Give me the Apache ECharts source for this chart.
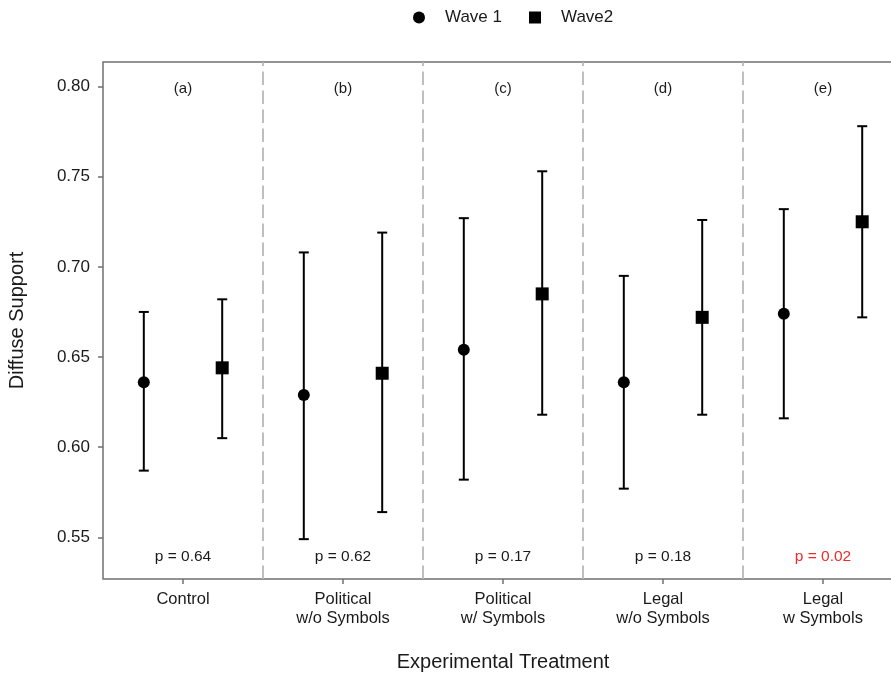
<!DOCTYPE html>
<html>
<head>
<meta charset="utf-8">
<script src="https://cdn.jsdelivr.net/npm/echarts@6/dist/echarts.min.js"></script>
<style>html,body{margin:0;padding:0;background:#fff}#c{width:891px;height:674px}</style>
</head>
<body>
<div id="c"></div>
<script>
const categories = ['Control', 'Political\nw/o Symbols', 'Political\nw/ Symbols', 'Legal\nw/o Symbols', 'Legal\nw Symbols'];
const panelLabels = ['(a)', '(b)', '(c)', '(d)', '(e)'];
const pLabels = ['p = 0.64', 'p = 0.62', 'p = 0.17', 'p = 0.18', 'p = 0.02'];
const pSignificant = [false, false, false, false, true];
const wave1Mean  = [0.636, 0.629, 0.654, 0.636, 0.674];
const wave1Lower = [0.587, 0.549, 0.582, 0.577, 0.616];
const wave1Upper = [0.675, 0.708, 0.727, 0.695, 0.732];
const wave2Mean  = [0.644, 0.641, 0.685, 0.672, 0.725];
const wave2Lower = [0.605, 0.564, 0.618, 0.618, 0.672];
const wave2Upper = [0.682, 0.719, 0.753, 0.726, 0.778];
const yTicks = [0.55, 0.60, 0.65, 0.70, 0.75, 0.80];

const DODGE = 0.245;
const FONT = '"Liberation Sans", Arial, Helvetica, sans-serif';
const TXT = '#1a1a1a';
const FRAME = '#707070';

const xPos = (i, w) => (i + 1) + (w === 1 ? -DODGE : DODGE);
const w1Pts = wave1Mean.map((v, i) => [xPos(i, 1), v]);
const w2Pts = wave2Mean.map((v, i) => [xPos(i, 2), v]);
const w1Err = wave1Mean.map((v, i) => [xPos(i, 1), wave1Lower[i], wave1Upper[i]]);
const w2Err = wave2Mean.map((v, i) => [xPos(i, 2), wave2Lower[i], wave2Upper[i]]);

function errRender(params, api) {
  const x = api.value(0);
  const lo = api.coord([x, api.value(1)]);
  const hi = api.coord([x, api.value(2)]);
  const hw = 5;
  const st = { stroke: '#000', lineWidth: 2 };
  return {
    type: 'group',
    children: [
      { type: 'line', shape: { x1: lo[0], y1: lo[1], x2: hi[0], y2: hi[1] }, style: st },
      { type: 'line', shape: { x1: lo[0] - hw, y1: lo[1], x2: lo[0] + hw, y2: lo[1] }, style: st },
      { type: 'line', shape: { x1: hi[0] - hw, y1: hi[1], x2: hi[0] + hw, y2: hi[1] }, style: st }
    ]
  };
}

const chart = echarts.init(document.getElementById('c'), null, { renderer: 'canvas' });
chart.setOption({
  animation: false,
  backgroundColor: '#fff',
  textStyle: { fontFamily: FONT },
  legend: {
    data: [{ name: 'Wave 1', icon: 'circle' }, { name: 'Wave2', icon: 'rect' }],
    left: 408, top: 4,
    itemWidth: 12, itemHeight: 12, itemGap: 27,
    textStyle: { fontSize: 17, color: TXT, fontFamily: FONT, padding: [0, 0, 0, 15] }
  },
  grid: { left: 103, top: 62, width: 800, height: 517, show: true, borderColor: FRAME, borderWidth: 1.5, backgroundColor: '#fff', outerBoundsMode: 'none', containLabel: false },
  xAxis: {
    type: 'value', min: 0.5, max: 5.5,
    name: 'Experimental Treatment', nameLocation: 'middle', nameGap: 73,
    nameTextStyle: { fontSize: 20, color: TXT, fontFamily: FONT },
    axisLine: { show: false },
    splitLine: { show: false },
    axisTick: { show: true, length: 5, lineStyle: { color: FRAME, width: 1.5 }, customValues: [1, 2, 3, 4, 5] },
    axisLabel: {
      customValues: [1, 2, 3, 4, 5], margin: 11, fontSize: 16.5, color: TXT, lineHeight: 19, fontFamily: FONT,
      formatter: v => categories[Math.round(v) - 1] || ''
    }
  },
  yAxis: {
    type: 'value', min: 0.5269, max: 0.8136,
    name: 'Diffuse Support', nameLocation: 'middle', nameGap: 76, nameRotate: 90,
    nameTextStyle: { fontSize: 20, color: TXT, fontFamily: FONT },
    axisLine: { show: false },
    splitLine: { show: false },
    axisTick: { show: true, length: 5, lineStyle: { color: FRAME, width: 1.5 }, customValues: yTicks },
    axisLabel: { customValues: yTicks, margin: 13, fontSize: 17, color: TXT, fontFamily: FONT, formatter: v => v.toFixed(2) }
  },
  series: [
    {
      name: 'dividers', type: 'scatter', data: [], silent: true,
      markLine: {
        silent: true, symbol: 'none', label: { show: false },
        lineStyle: { color: '#b8b8b8', width: 1.8, type: [13.5, 5.5] },
        data: [1.5, 2.5, 3.5, 4.5].map(x => ({ xAxis: x }))
      }
    },
    { name: 'err1', type: 'custom', renderItem: errRender, data: w1Err, z: 3, silent: true },
    { name: 'err2', type: 'custom', renderItem: errRender, data: w2Err, z: 3, silent: true },
    { name: 'Wave 1', type: 'scatter', symbol: 'circle', symbolSize: 12, data: w1Pts, itemStyle: { color: '#000', opacity: 1 }, z: 5 },
    { name: 'Wave2', type: 'scatter', symbol: 'rect', symbolSize: 13, data: w2Pts, itemStyle: { color: '#000', opacity: 1 }, z: 5 },
    {
      name: 'panel', type: 'scatter', symbolSize: 0, silent: true, itemStyle: { opacity: 1 },
      data: panelLabels.map((t, i) => ({ value: [i + 1, 0.7985], name: t })),
      label: { show: true, position: 'inside', formatter: p => p.name, fontSize: 15, color: TXT, fontFamily: FONT }
    },
    {
      name: 'pvals', type: 'scatter', symbolSize: 0, silent: true, itemStyle: { opacity: 1 },
      data: pLabels.map((t, i) => ({
        value: [i + 1, 0.5392], name: t,
        label: { color: pSignificant[i] ? '#ee2a2a' : TXT }
      })),
      label: { show: true, position: 'inside', formatter: p => p.name, fontSize: 15.5, fontFamily: FONT }
    }
  ]
});
</script>
</body>
</html>
